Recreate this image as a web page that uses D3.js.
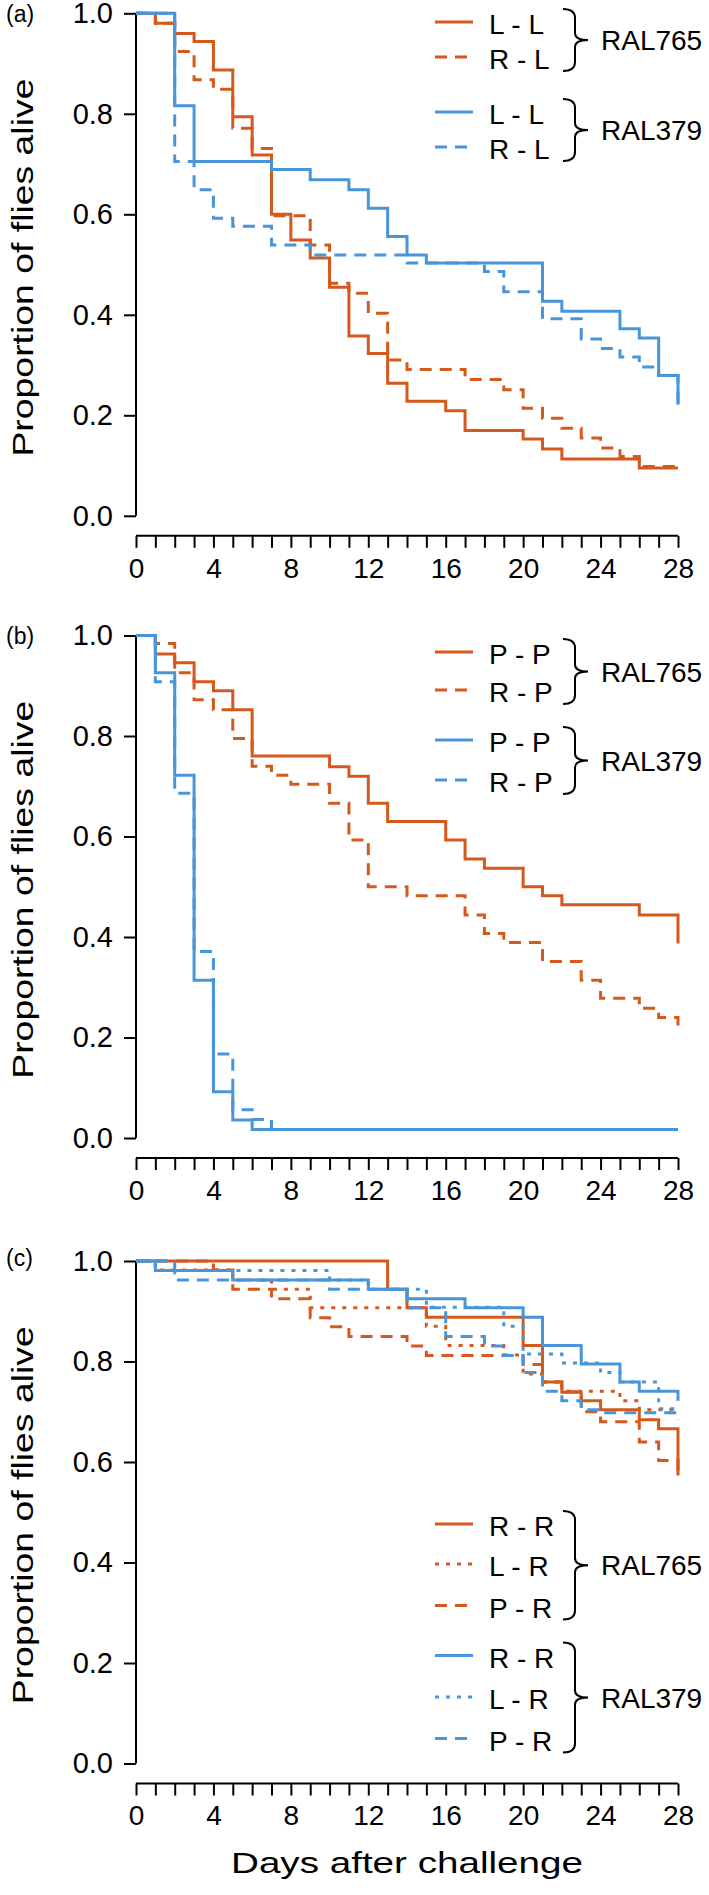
<!DOCTYPE html>
<html><head><meta charset="utf-8">
<script src="https://cdn.jsdelivr.net/npm/d3@7"></script>
<style>
body{margin:0;background:#fff}
svg{display:block}
text{font-family:"Liberation Sans",Arial,Helvetica,sans-serif;fill:#000}
</style>
</head><body>
<svg id="chart" width="709" height="1895"></svg>
<script>
// ---------- data ----------
const dayTicks = d3.range(0, 29);
const dayLabels = [0, 4, 8, 12, 16, 20, 24, 28];
const propTicks = [0, 0.2, 0.4, 0.6, 0.8, 1.0];
const panelLetters = ["(a)", "(b)", "(c)"];
const groupNames = ["RAL765", "RAL379"];
const xTitle = "Days after challenge";
const yTitle = "Proportion of flies alive";

// Panel (a): challenge with L
const a_RAL765_LL = [[0,1],[1,0.980],[2,0.960],[3,0.944],[4,0.887],[5,0.794],[6,0.718],[7,0.600],[8,0.549],[9,0.513],[10,0.455],[11,0.358],[12,0.323],[13,0.264],[14,0.228],[16,0.209],[17,0.170],[20,0.153],[21,0.133],[22,0.113],[26,0.095],[28,0.095]];
const a_RAL765_RL = [[0,1],[1,0.980],[2,0.924],[3,0.868],[4,0.849],[5,0.771],[6,0.731],[7,0.597],[9,0.539],[10,0.463],[11,0.443],[12,0.403],[13,0.310],[14,0.291],[17,0.271],[19,0.251],[20,0.214],[21,0.194],[22,0.174],[23,0.155],[24,0.135],[25,0.118],[26,0.098],[28,0.098]];
const a_RAL379_LL = [[0,1],[2,0.816],[3,0.705],[7,0.689],[9,0.669],[11,0.649],[12,0.612],[13,0.556],[14,0.519],[15,0.503],[21,0.427],[22,0.407],[25,0.372],[26,0.354],[27,0.279],[28,0.221]];
const a_RAL379_RL = [[0,1],[2,0.705],[3,0.649],[4,0.592],[5,0.576],[7,0.539],[9,0.519],[14,0.503],[18,0.486],[19,0.446],[21,0.392],[23,0.352],[24,0.333],[25,0.316],[26,0.296],[27,0.279],[28,0.221]];

// Panel (b): challenge with P
const b_RAL765_PP = [[0,1],[1,0.963],[2,0.946],[3,0.908],[4,0.890],[5,0.852],[6,0.760],[10,0.739],[11,0.720],[12,0.666],[13,0.630],[16,0.593],[17,0.555],[18,0.537],[20,0.500],[21,0.482],[22,0.464],[26,0.444],[28,0.387]];
const b_RAL765_RP = [[0,1],[1,0.984],[2,0.926],[3,0.872],[4,0.852],[5,0.795],[6,0.740],[7,0.722],[8,0.704],[10,0.666],[11,0.593],[12,0.500],[14,0.482],[17,0.444],[18,0.407],[19,0.389],[21,0.351],[23,0.314],[24,0.278],[26,0.258],[27,0.240],[28,0.218]];
const b_RAL379_PP = [[0,1],[1,0.926],[2,0.722],[3,0.314],[4,0.092],[5,0.036],[6,0.017],[28,0.017]];
const b_RAL379_RP = [[0,1],[1,0.908],[2,0.686],[3,0.371],[4,0.167],[5,0.056],[6,0.037],[7,0.017],[28,0.017]];

// Panel (c): challenge with R
const c_RAL765_RR = [[0,1],[13,0.944],[14,0.907],[15,0.888],[20,0.832],[21,0.759],[22,0.739],[23,0.722],[24,0.704],[26,0.684],[27,0.666],[28,0.573]];
const c_RAL765_LR = [[0,1],[1,0.982],[5,0.962],[7,0.944],[9,0.907],[15,0.870],[16,0.832],[19,0.813],[20,0.775],[21,0.759],[22,0.741],[25,0.722],[26,0.704],[28,0.700]];
const c_RAL765_PR = [[0,1],[4,0.982],[5,0.944],[7,0.925],[9,0.887],[10,0.869],[11,0.850],[14,0.831],[15,0.812],[20,0.794],[21,0.759],[22,0.740],[23,0.700],[24,0.680],[26,0.640],[27,0.603],[28,0.573]];
const c_RAL379_RR = [[0,1],[1,0.981],[5,0.962],[12,0.944],[14,0.925],[17,0.907],[20,0.888],[21,0.832],[23,0.795],[25,0.759],[26,0.741],[28,0.722]];
const c_RAL379_LR = [[0,1],[1,0.981],[10,0.962],[12,0.944],[15,0.908],[19,0.870],[20,0.815],[22,0.797],[24,0.778],[25,0.759],[27,0.706],[28,0.700]];
const c_RAL379_PR = [[0,1],[2,0.962],[10,0.944],[14,0.907],[16,0.850],[18,0.831],[19,0.812],[20,0.778],[21,0.741],[22,0.722],[23,0.704],[24,0.698],[28,0.685]];

const legendA = ["L - L", "R - L", "L - L", "R - L"];
const legendB = ["P - P", "R - P", "P - P", "R - P"];
const legendC = ["R - R", "L - R", "P - R", "R - R", "L - R", "P - R"];

// ---------- styles ----------
const ORANGE = "#d5591c", BLUE = "#4895da";
const SOLID = null, DASH = "12,8", DOT = "4,7";
const FONT = '"Liberation Sans",Arial,Helvetica,sans-serif';

const panels = [
  { top: 13.3, letterDy: 9, series: [
      {d:a_RAL765_LL,c:ORANGE,s:SOLID},{d:a_RAL765_RL,c:ORANGE,s:DASH},
      {d:a_RAL379_LL,c:BLUE,s:SOLID},{d:a_RAL379_RL,c:BLUE,s:DASH}],
    legend: { labels: legendA, rows: [10.7, 45.7, 100.7, 135.7], groups: [[0,1],[2,3]] } },
  { top: 635.5, letterDy: 8, series: [
      {d:b_RAL765_PP,c:ORANGE,s:SOLID},{d:b_RAL765_RP,c:ORANGE,s:DASH},
      {d:b_RAL379_PP,c:BLUE,s:SOLID},{d:b_RAL379_RP,c:BLUE,s:DASH}],
    legend: { labels: legendB, rows: [18.5, 56.5, 106.5, 146.5], groups: [[0,1],[2,3]] } },
  { top: 1261, letterDy: 5, series: [
      {d:c_RAL765_RR,c:ORANGE,s:SOLID},{d:c_RAL765_LR,c:ORANGE,s:DOT},{d:c_RAL765_PR,c:ORANGE,s:DASH},
      {d:c_RAL379_RR,c:BLUE,s:SOLID},{d:c_RAL379_LR,c:BLUE,s:DOT},{d:c_RAL379_PR,c:BLUE,s:DASH}],
    legend: { labels: legendC, rows: [265, 305, 346.6, 396.5, 438, 479.5], groups: [[0,2],[3,5]] } }
];

const svg = d3.select("#chart");
const x = d3.scaleLinear().domain([0, 28]).range([136, 678]);
const PH = 502.5;

panels.forEach((p, pi) => {
  const y = d3.scaleLinear().domain([0, 1]).range([p.top + PH, p.top]);
  const g = svg.append("g");

  // y axis
  const ya = g.append("g").attr("transform", `translate(${x(0)},0)`)
    .call(d3.axisLeft(y).tickValues(propTicks).tickFormat(d3.format(".1f")).tickSize(12).tickPadding(11));
  ya.select(".domain").attr("d", `M0,${y(0)}V${y(1)}`).attr("stroke", "#000").attr("stroke-width", 2);
  ya.selectAll(".tick line").attr("stroke", "#000").attr("stroke-width", 2);
  ya.selectAll(".tick text").attr("font-size", 29).attr("font-family", FONT).attr("fill", "#000");

  // x axis
  const axisY = p.top + PH + 20;
  const xa = g.append("g").attr("transform", `translate(0,${axisY})`)
    .call(d3.axisBottom(x).tickValues(dayTicks).tickFormat(d => dayLabels.includes(d) ? d : "").tickSize(12).tickPadding(10));
  xa.select(".domain").attr("d", `M${x(0)},0H${x(28)}`).attr("stroke", "#000").attr("stroke-width", 2);
  xa.selectAll(".tick line").attr("stroke", "#000").attr("stroke-width", 2);
  xa.selectAll(".tick text").attr("font-size", 28).attr("font-family", FONT).attr("fill", "#000");

  // y title
  g.append("text").attr("transform", `translate(33,${y(0.5) + 3}) rotate(-90)`)
    .attr("text-anchor", "middle").attr("font-size", 30)
    .attr("textLength", 378).attr("lengthAdjust", "spacingAndGlyphs").text(yTitle);

  // panel letter
  g.append("text").attr("x", 6).attr("y", p.top + p.letterDy).attr("font-size", 23).text(panelLetters[pi]);

  // curves
  const line = d3.line().x(d => x(d[0])).y(d => y(d[1])).curve(d3.curveStepAfter);
  p.series.forEach(s => {
    g.append("path").attr("d", line(s.d)).attr("fill", "none")
      .attr("stroke", s.c).attr("stroke-width", 3)
      .attr("stroke-dasharray", s.s).attr("stroke-linejoin", "miter");
  });

  // legend
  const L = p.legend;
  p.series.forEach((s, i) => {
    const cy = p.top + L.rows[i];
    g.append("line").attr("x1", 435).attr("x2", 473).attr("y1", cy - 2).attr("y2", cy - 2)
      .attr("stroke", s.c).attr("stroke-width", 3).attr("stroke-dasharray", s.s);
    g.append("text").attr("x", 489).attr("y", cy).attr("dy", "0.36em").attr("font-size", 28).text(L.labels[i]);
  });
  L.groups.forEach((gr, gi) => {
    const y1 = p.top + L.rows[gr[0]] - 15, y2 = p.top + L.rows[gr[1]] + 12;
    const ym = (y1 + y2) / 2, x0 = 563, xm = 575, xt = 588;
    g.append("path").attr("d",
      `M${x0},${y1} Q${xm},${y1} ${xm},${y1+9} L${xm},${ym-7} Q${xm},${ym} ${xt},${ym} Q${xm},${ym} ${xm},${ym+7} L${xm},${y2-9} Q${xm},${y2} ${x0},${y2}`)
      .attr("fill", "none").attr("stroke", "#000").attr("stroke-width", 2);
    g.append("text").attr("x", 601).attr("y", ym).attr("dy", "0.36em").attr("font-size", 28).text(groupNames[gi]);
  });
});

// x title
svg.append("text").attr("x", x(14)).attr("y", 1873).attr("text-anchor", "middle").attr("font-size", 30)
  .attr("textLength", 352).attr("lengthAdjust", "spacingAndGlyphs").text(xTitle);
</script>
</body></html>
